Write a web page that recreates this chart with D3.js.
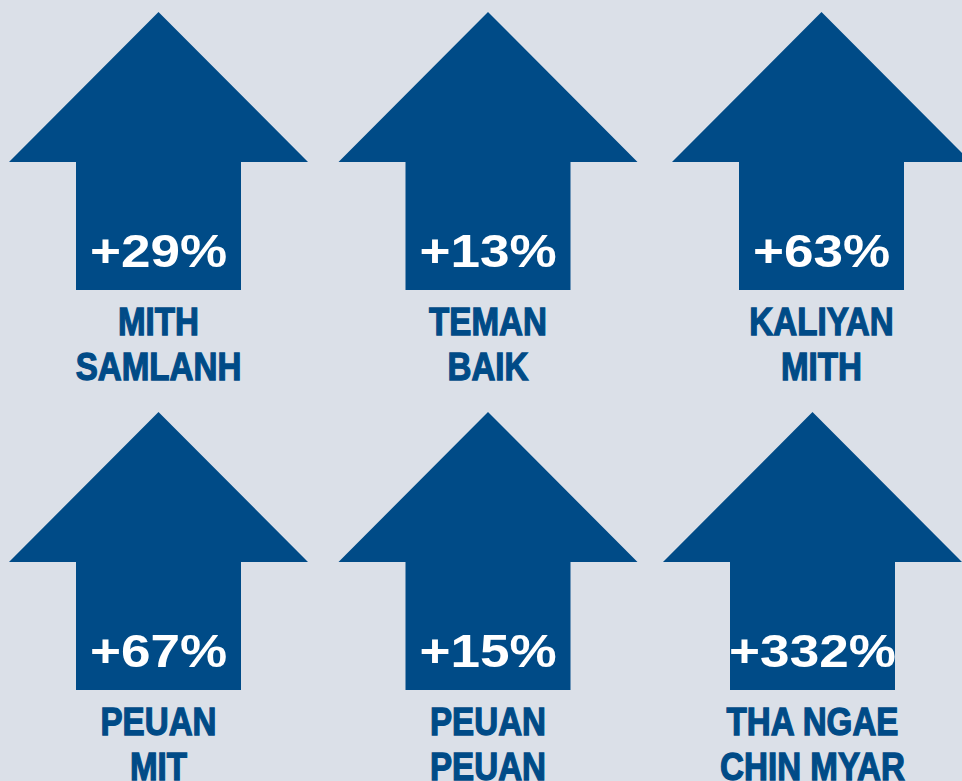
<!DOCTYPE html>
<html lang="en">
<head>
  <meta charset="UTF-8">
  <title>Arrows</title>
  <style>
    body { margin: 0; padding: 0; background: #dbe0e8; overflow: hidden; }
    svg { display: block; }
    .value { font-family: "Liberation Sans", Arial, sans-serif; font-weight: bold; fill: #fff; }
    .label { font-family: "Liberation Sans", Arial, sans-serif; font-weight: bold; fill: #004b87; stroke: #004b87; stroke-width: 1.3px; }
  </style>
</head>
<body>
  <div id="chart"></div>
  <script src="https://d3js.org/d3.v7.min.js"></script>
  <script>
    // data
    var names = [
      ["MITH", "SAMLANH"],
      ["TEMAN", "BAIK"],
      ["KALIYAN", "MITH"],
      ["PEUAN", "MIT"],
      ["PEUAN", "PEUAN"],
      ["THA NGAE", "CHIN MYAR"]
    ];
    var values = [29, 13, 63, 67, 15, 332];

    var width = 962, height = 781;
    var blue = "#004b87";

    var svg = d3.select("#chart").append("svg")
      .attr("width", width)
      .attr("height", height);

    svg.append("rect")
      .attr("width", width)
      .attr("height", height)
      .attr("fill", "#dbe0e8");

    // grid: 3 columns, 2 rows
    var x = d3.scalePoint().domain([0, 1, 2]).range([158.5, 821.5]);
    var y = d3.scalePoint().domain([0, 1]).range([12, 412]);
    var nudge = [0, -2, 0, 0, -2, -9]; // small shifts seen in the original layout

    var headW = 149.5, headH = 150, shaftW = 82.5, shaftB = 278;

    function arrowPath(cx, ty) {
      var p = d3.path();
      p.moveTo(cx, ty);
      p.lineTo(cx + headW, ty + headH);
      p.lineTo(cx + shaftW, ty + headH);
      p.lineTo(cx + shaftW, ty + shaftB);
      p.lineTo(cx - shaftW, ty + shaftB);
      p.lineTo(cx - shaftW, ty + headH);
      p.lineTo(cx - headW, ty + headH);
      p.closePath();
      return p.toString();
    }

    var items = values.map(function(v, i) {
      return { value: v, name: names[i], cx: x(i % 3) + nudge[i], ty: y(Math.floor(i / 3)) };
    });

    var g = svg.selectAll(".item")
      .data(items)
      .enter().append("g")
      .attr("class", "item");

    g.append("path")
      .attr("d", function(d) { return arrowPath(d.cx, d.ty); })
      .attr("fill", blue);

    g.append("text")
      .attr("class", "value")
      .attr("text-anchor", "middle")
      .attr("font-size", 47)
      .attr("transform", function(d) {
        return "translate(" + d.cx + "," + (d.ty + 255) + ")scale(1.13,1)";
      })
      .text(function(d) { return "+" + d.value + "%"; });

    var lab = g.append("text")
      .attr("class", "label")
      .attr("text-anchor", "middle")
      .attr("font-size", 39)
      .attr("transform", function(d) {
        return "translate(" + d.cx + "," + (d.ty + 323) + ")scale(0.85,1)";
      });

    lab.selectAll("tspan")
      .data(function(d) { return d.name; })
      .enter().append("tspan")
      .attr("x", 0)
      .attr("dy", function(d, i) { return i === 0 ? 0 : 45; })
      .text(function(d) { return d; });
  </script>
</body>
</html>
